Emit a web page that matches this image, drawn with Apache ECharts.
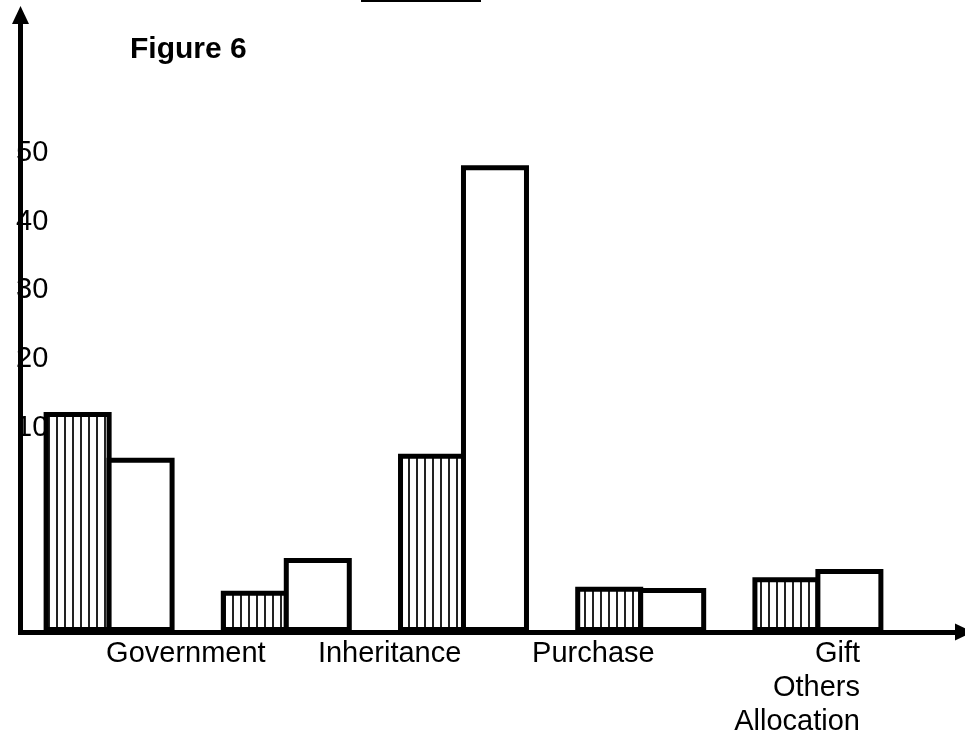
<!DOCTYPE html>
<html>
<head>
<meta charset="utf-8">
<title>Figure 6</title>
<script src="https://cdn.jsdelivr.net/npm/echarts@6/dist/echarts.min.js"></script>
<style>
  html, body { margin: 0; padding: 0; background: #fff; }
  #chart-box { width: 965px; height: 736px; }
</style>
</head>
<body>
<div id="chart-box"></div>
<script>
// bar groups (left to right)
const categories = ['Government Allocation', 'Inheritance', 'Purchase', 'Gift', 'Others'];
// striped bars and plain bars
const stripedValues = [32.1, 6.0, 26.0, 6.6, 8.0];
const plainValues = [25.4, 10.8, 68.1, 6.4, 9.2];
// labels as they are printed under the axis
const xTickLabels = ['Government', 'Inheritance', 'Purchase', 'Gift\nOthers\nAllocation'];
const yTickLabels = [10, 20, 30, 40, 50];

const FONT = 'Liberation Sans, Arial, sans-serif';

// vertical line pattern for the striped bars
function stripes() {
  let c = document.createElement('canvas');
  c.width = 8;
  c.height = 8;
  let ctx = c.getContext('2d');
  ctx.fillStyle = '#fff';
  ctx.fillRect(0, 0, 8, 8);
  ctx.fillStyle = '#222';
  ctx.fillRect(0, 0, 2, 8);
  return c;
}

const chart = echarts.init(document.getElementById('chart-box'));

let option = {
  backgroundColor: '#fff',
  animation: false,
  title: {
    text: 'Figure 6',
    left: 125,
    top: 30,
    textStyle: { fontFamily: FONT, fontSize: 30, fontWeight: 'bold', color: '#000' }
  },
  graphic: [
    // cut-off line at the top edge
    { type: 'rect', shape: { x: 361, y: 0, width: 120, height: 2 }, style: { fill: '#000' } }
  ],
  grid: [
    { left: 20.5, right: 58.5, top: 15, bottom: 104 },   // bars
    { left: 20.5, right: 1, top: 15, bottom: 104 },      // arrow axes
    { left: 20.5, right: 500, top: 14.7, bottom: 100.9 }, // y tick labels
    { left: 84, right: 66, top: 15, bottom: 104 }        // x tick labels
  ],
  xAxis: [
    { type: 'category', gridIndex: 0, data: categories, show: false },
    {
      type: 'value', gridIndex: 1, min: 0, max: 1,
      axisLine: {
        show: true, symbol: ['none', 'triangle'], symbolSize: [17, 18],
        lineStyle: { color: '#000', width: 5, cap: 'square' }
      },
      axisTick: { show: false }, axisLabel: { show: false }, splitLine: { show: false },
      z: 5
    },
    {
      type: 'category', gridIndex: 3, data: xTickLabels,
      axisLine: { show: false }, axisTick: { show: false },
      axisLabel: {
        margin: 8,
        interval: 0,
        formatter: function (v) {
          return v.split('\n').map(s => '{r|' + s + '}').join('\n');
        },
        rich: {
          r: { align: 'right', fontFamily: FONT, fontSize: 29, lineHeight: 34, color: '#000' }
        }
      }
    },
    { type: 'value', gridIndex: 2, show: false }
  ],
  yAxis: [
    { type: 'value', gridIndex: 0, min: 0, max: 90, show: false },
    {
      type: 'value', gridIndex: 1, min: 0, max: 1,
      axisLine: {
        show: true, symbol: ['none', 'triangle'], symbolSize: [17, 18],
        lineStyle: { color: '#000', width: 5, cap: 'square' }
      },
      axisTick: { show: false }, axisLabel: { show: false }, splitLine: { show: false },
      z: 5
    },
    {
      type: 'value', gridIndex: 2, min: -20, max: 70, interval: 10,
      axisLine: { show: false }, axisTick: { show: false }, splitLine: { show: false },
      axisLabel: {
        align: 'left',
        margin: 4.5,
        fontFamily: FONT, fontSize: 29, color: '#000',
        formatter: function (v) {
          return yTickLabels.indexOf(v) >= 0 ? String(v) : '';
        }
      },
      z: 1
    },
    { type: 'value', gridIndex: 3, show: false }
  ],
  series: [
    {
      name: 'striped',
      type: 'bar',
      xAxisIndex: 0, yAxisIndex: 0,
      barWidth: 68,
      barGap: '-7.4%',
      data: stripedValues,
      itemStyle: {
        color: { image: stripes(), repeat: 'repeat' },
        borderColor: '#000',
        borderWidth: 5
      }
    },
    {
      name: 'plain',
      type: 'bar',
      xAxisIndex: 0, yAxisIndex: 0,
      barWidth: 68,
      barGap: '-7.4%',
      data: plainValues,
      itemStyle: { color: '#fff', borderColor: '#000', borderWidth: 5 }
    }
  ]
};

chart.setOption(option);
</script>
</body>
</html>
